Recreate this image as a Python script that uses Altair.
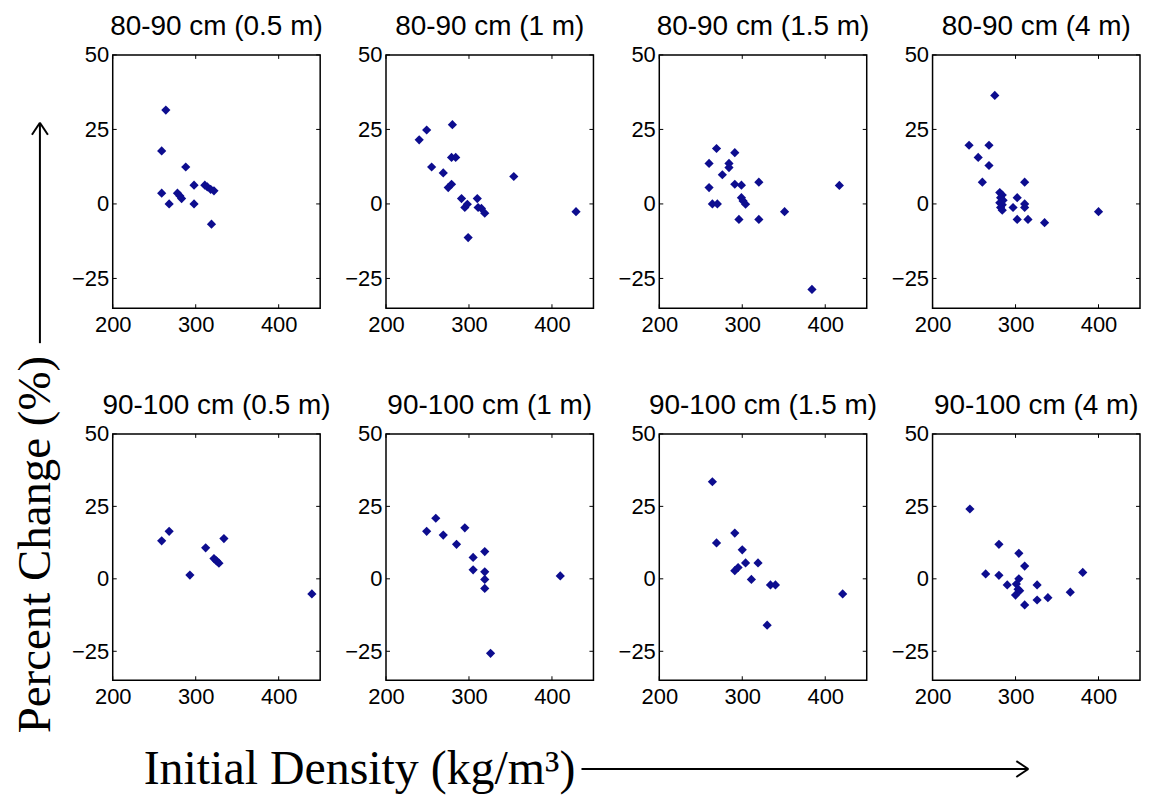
import altair as alt
import pandas as pd

# ---------------- data ----------------
titles = ["80-90 cm (0.5 m)", "80-90 cm (1 m)", "80-90 cm (1.5 m)", "80-90 cm (4 m)",
          "90-100 cm (0.5 m)", "90-100 cm (1 m)", "90-100 cm (1.5 m)", "90-100 cm (4 m)"]

p1_x = [264, 259, 288, 259, 268, 278, 281, 283, 298, 298, 311, 314, 318, 322, 319]
p1_y = [31.5, 17.8, 12.4, 3.6, 0.0, 3.6, 2.7, 1.8, 6.3, 0.0, 6.3, 5.7, 4.9, 4.4, -6.8]

p2_x = [240, 249, 280, 279, 284, 255, 269, 275, 279, 291, 295, 298, 310, 311, 315, 319, 299, 354, 429]
p2_y = [21.5, 24.8, 26.6, 15.6, 15.6, 12.4, 10.4, 5.5, 6.6, 1.8, -1.2, -0.1, 1.8, -1.2, -1.5, -3.1, -11.3, 9.2, -2.6]

p3_x = [269, 291, 260, 284, 284, 276, 260, 291, 299, 320, 264, 270, 299, 301, 304, 296, 320, 351, 417, 384]
p3_y = [18.6, 17.2, 13.6, 13.6, 12.2, 9.8, 5.5, 6.6, 6.3, 7.3, 0.0, 0.0, 2.1, 1.0, -0.1, -5.2, -5.2, -2.6, 6.2, -28.7]

p4_x = [275, 244, 268, 255, 268, 260, 311, 281, 284, 282, 285, 281, 284, 282, 284, 302, 297, 311, 311, 302, 315, 335, 400]
p4_y = [36.4, 19.7, 19.7, 15.6, 12.9, 7.3, 7.3, 3.8, 3.0, 2.1, 1.2, 0.4, -0.3, -1.2, -2.1, 2.1, -1.2, 0.0, -1.2, -5.2, -5.2, -6.3, -2.6]

p5_x = [259, 268, 293, 312, 322, 325, 328, 334, 440]
p5_y = [13.1, 16.4, 1.3, 10.7, 7.0, 6.2, 5.4, 13.9, -5.2]

p6_x = [249, 260, 269, 285, 295, 305, 305, 319, 319, 319, 319, 326, 410]
p6_y = [16.4, 20.9, 15.1, 11.9, 17.6, 7.4, 3.1, 9.4, 2.4, -0.2, -3.3, -25.7, 1.0]

p7_x = [264, 269, 291, 300, 291, 295, 304, 319, 311, 334, 340, 330, 421]
p7_y = [33.5, 12.4, 15.8, 10.0, 2.8, 3.9, 5.5, 5.5, -0.2, -2.1, -2.1, -16.0, -5.2]

p8_x = [245, 280, 304, 311, 264, 280, 290, 304, 301, 303, 300, 305, 311, 326, 326, 339, 366, 381]
p8_y = [24.1, 11.9, 8.8, 4.4, 1.7, 1.2, -2.1, 0.0, -1.8, -3.6, -5.6, -4.1, -9.0, -2.1, -7.3, -6.5, -4.6, 2.2]

x_ticks = [200, 300, 400]
y_ticks = [-25, 0, 25, 50]
x_domain = [200, 450]
y_domain = [-35, 50]

x_label = "Initial Density (kg/m³)"
y_label = "Percent Change (%)"

# ---------------- style / layout ----------------
W = 208
H_TOP = 254
H_BOT = 247
POINT_COLOR = "#0d0d8f"
SANS = "Liberation Sans"
SERIF = "Liberation Serif"
TICK = 4

xscale = alt.Scale(domain=x_domain, nice=False, zero=False)
yscale = alt.Scale(domain=y_domain, nice=False, zero=False)
xaxis = alt.Axis(values=x_ticks, title=None, grid=False, domain=False, ticks=False,
                 labelPadding=6, labelFontSize=22, labelFont=SANS, labelColor="black",
                 labelFlush=False, labelOverlap=False)
yaxis = alt.Axis(values=y_ticks, title=None, grid=False, domain=False, ticks=False,
                 labelPadding=4, labelFontSize=22, labelFont=SANS, labelColor="black",
                 labelFlush=False, labelOverlap=False)


def panel(title, xs, ys, h, extra=None):
    df = pd.DataFrame({"density": xs, "change": ys})
    pts = alt.Chart(df).mark_point(shape="diamond", filled=True, size=85, opacity=1,
                                   color=POINT_COLOR).encode(
        x=alt.X("density:Q", scale=xscale, axis=xaxis),
        y=alt.Y("change:Q", scale=yscale, axis=yaxis),
    )
    xt = pd.DataFrame({"t": x_ticks})
    yt = pd.DataFrame({"t": y_ticks})
    rule = dict(color="black", strokeWidth=1)
    tb = alt.Chart(xt).mark_rule(**rule).encode(
        x=alt.X("t:Q", scale=xscale, axis=xaxis), y=alt.value(h), y2=alt.value(h - TICK))
    tt = alt.Chart(xt).mark_rule(**rule).encode(
        x=alt.X("t:Q", scale=xscale, axis=xaxis), y=alt.value(0), y2=alt.value(TICK))
    tl = alt.Chart(yt).mark_rule(**rule).encode(
        y=alt.Y("t:Q", scale=yscale, axis=yaxis), x=alt.value(0), x2=alt.value(TICK))
    tr = alt.Chart(yt).mark_rule(**rule).encode(
        y=alt.Y("t:Q", scale=yscale, axis=yaxis), x=alt.value(W), x2=alt.value(W - TICK))
    layers = [tb, tt, tl, tr, pts]
    if extra:
        layers += extra
    return alt.layer(*layers).properties(
        width=W, height=h,
        title=alt.TitleParams(text=title, fontSize=28, font=SANS, fontWeight="normal",
                              anchor="middle", color="black", frame="group", offset=3),
    )


# overall labels, drawn relative to the upper-left panel (nothing above its top edge)
lab = pd.DataFrame({"ylab": [y_label], "xlab": [x_label]})
arrow = dict(color="black", strokeWidth=2)
ytext = alt.Chart(lab).mark_text(font=SERIF, fontSize=47, angle=270, align="center",
                                 baseline="alphabetic", color="black").encode(
    text="ylab:N", x=alt.value(-63), y=alt.value(491))
xtext = alt.Chart(lab).mark_text(font=SERIF, fontSize=48, align="left",
                                 baseline="alphabetic", color="black").encode(
    text="xlab:N", x=alt.value(31), y=alt.value(731))
ya = alt.Chart(lab).mark_rule(**arrow).encode(x=alt.value(-73), y=alt.value(289), y2=alt.value(68))
ya1 = alt.Chart(lab).mark_rule(**arrow).encode(x=alt.value(-81), x2=alt.value(-73), y=alt.value(80), y2=alt.value(68))
ya2 = alt.Chart(lab).mark_rule(**arrow).encode(x=alt.value(-65), x2=alt.value(-73), y=alt.value(80), y2=alt.value(68))
xa = alt.Chart(lab).mark_rule(**arrow).encode(y=alt.value(716), x=alt.value(470), x2=alt.value(918))
xa1 = alt.Chart(lab).mark_rule(**arrow).encode(y=alt.value(708), y2=alt.value(716), x=alt.value(906), x2=alt.value(918))
xa2 = alt.Chart(lab).mark_rule(**arrow).encode(y=alt.value(724), y2=alt.value(716), x=alt.value(906), x2=alt.value(918))
labels = [ytext, xtext, ya, ya1, ya2, xa, xa1, xa2]

panels = [
    panel(titles[0], p1_x, p1_y, H_TOP, extra=labels),
    panel(titles[1], p2_x, p2_y, H_TOP),
    panel(titles[2], p3_x, p3_y, H_TOP),
    panel(titles[3], p4_x, p4_y, H_TOP),
    panel(titles[4], p5_x, p5_y, H_BOT),
    panel(titles[5], p6_x, p6_y, H_BOT),
    panel(titles[6], p7_x, p7_y, H_BOT),
    panel(titles[7], p8_x, p8_y, H_BOT),
]

chart = alt.concat(*panels, columns=4, spacing={"row": 126, "column": 66},
                   bounds="flush").properties(
    padding={"left": 3, "top": 3, "right": 0, "bottom": 0},
    background="white",
).configure_view(stroke="black", strokeWidth=1.5)

chart.save("out.html", embed_options={"renderer": "svg", "actions": False})
